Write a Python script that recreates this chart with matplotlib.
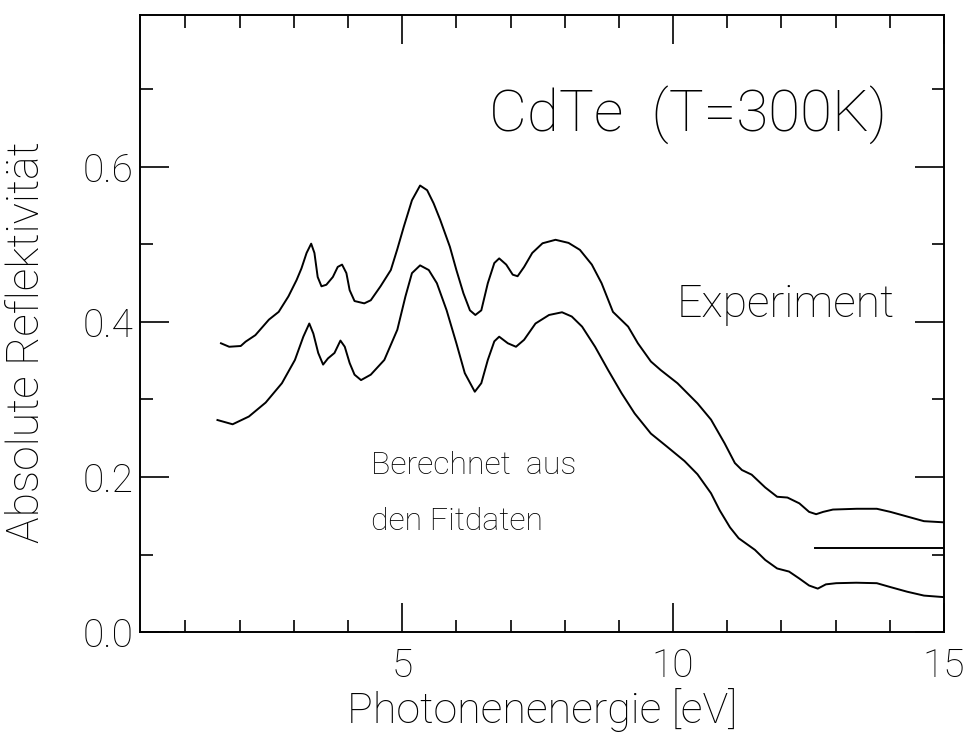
import matplotlib
matplotlib.use("Agg")
import matplotlib.pyplot as plt
from matplotlib.ticker import MultipleLocator

plt.rcParams['font.family'] = ['Roboto', 'DejaVu Sans']
plt.rcParams['font.weight'] = 'light'
plt.rcParams['axes.labelweight'] = 'light'

# gemessene Reflektivität
e_exp = [1.655, 1.807, 2.02, 2.11, 2.29, 2.54, 2.72, 2.90, 3.05, 3.14, 3.235, 3.32,
         3.38, 3.44, 3.51, 3.60, 3.72, 3.81, 3.89, 3.97, 4.03, 4.12, 4.30, 4.42,
         4.60, 4.79, 4.91, 5.03, 5.18, 5.33, 5.46, 5.58, 5.70, 5.88, 6.00, 6.13,
         6.25, 6.35, 6.46, 6.58, 6.70, 6.79, 6.92, 7.04, 7.13, 7.25, 7.40, 7.59,
         7.83, 8.07, 8.28, 8.50, 8.68, 8.89, 9.17, 9.35, 9.59, 9.77, 10.08, 10.45,
         10.70, 10.95, 11.14, 11.27, 11.45, 11.70, 11.92, 12.11, 12.33, 12.51,
         12.64, 12.77, 12.95, 13.39, 13.76, 14.01, 14.32, 14.63, 15.0]
r_exp = [0.3725, 0.368, 0.369, 0.3746, 0.383, 0.403, 0.413, 0.433, 0.454, 0.469,
         0.489, 0.501, 0.489, 0.458, 0.446, 0.448, 0.458, 0.471, 0.474, 0.463,
         0.441, 0.427, 0.424, 0.428, 0.446, 0.467, 0.494, 0.523, 0.557, 0.576,
         0.570, 0.553, 0.532, 0.497, 0.467, 0.437, 0.415, 0.409, 0.415, 0.450,
         0.476, 0.482, 0.474, 0.461, 0.459, 0.471, 0.489, 0.5015, 0.506, 0.502,
         0.493, 0.474, 0.450, 0.413, 0.394, 0.3725, 0.349, 0.338, 0.321, 0.295,
         0.274, 0.2435, 0.218, 0.209, 0.203, 0.1865, 0.1745, 0.1735, 0.166, 0.155,
         0.152, 0.155, 0.158, 0.159, 0.159, 0.155, 0.149, 0.143, 0.1415]

# aus den Fitdaten berechnet
e_fit = [1.59, 1.87, 2.17, 2.48, 2.78, 3.02, 3.175, 3.285, 3.36, 3.45, 3.54, 3.63,
         3.75, 3.86, 3.94, 4.03, 4.12, 4.24, 4.42, 4.67, 4.91, 5.06, 5.18, 5.33,
         5.49, 5.64, 5.82, 6.00, 6.155, 6.34, 6.46, 6.58, 6.70, 6.79, 6.95, 7.10,
         7.25, 7.46, 7.71, 7.95, 8.13, 8.32, 8.56, 8.80, 9.05, 9.29, 9.59, 9.89,
         10.21, 10.45, 10.70, 10.86, 11.05, 11.21, 11.35, 11.51, 11.70, 11.92,
         12.14, 12.33, 12.51, 12.67, 12.82, 13.01, 13.38, 13.76, 14.01, 14.32,
         14.63, 15.0]
r_fit = [0.2735, 0.268, 0.278, 0.296, 0.321, 0.351, 0.381, 0.398, 0.385, 0.360,
         0.345, 0.353, 0.360, 0.376, 0.368, 0.347, 0.332, 0.325, 0.332, 0.351,
         0.390, 0.433, 0.463, 0.473, 0.467, 0.450, 0.415, 0.3725, 0.334, 0.310,
         0.321, 0.351, 0.375, 0.381, 0.3725, 0.368, 0.377, 0.398, 0.409, 0.4125,
         0.407, 0.394, 0.368, 0.338, 0.308, 0.282, 0.256, 0.239, 0.2206, 0.2035,
         0.179, 0.157, 0.135, 0.121, 0.114, 0.106, 0.093, 0.082, 0.078, 0.069,
         0.060, 0.056, 0.0615, 0.063, 0.0636, 0.063, 0.058, 0.052, 0.047, 0.045]

# Offset-Linie rechts unten
e_ref = [12.62, 15.0]
r_ref = [0.108, 0.108]

fig = plt.figure(figsize=(9.7, 7.35), dpi=100)
ax = fig.add_axes([0.1443, 0.1401, 0.8289, 0.8395])

ax.plot(e_exp, r_exp, color='black', lw=1.4)
ax.plot(e_fit, r_fit, color='black', lw=1.4)
ax.plot(e_ref, r_ref, color='black', lw=1.4)

ax.set_xlim(0.16, 15.0)
ax.set_ylim(0.0, 0.796)
ax.xaxis.set_minor_locator(MultipleLocator(1))
ax.yaxis.set_minor_locator(MultipleLocator(0.1))
ax.set_xticks([5, 10, 15])
ax.set_yticks([0.0, 0.2, 0.4, 0.6])
ax.set_yticklabels(['0.0', '0.2', '0.4', '0.6'])

ax.tick_params(which='both', direction='in', top=True, right=True, width=1.2,
               labelsize=28)
ax.tick_params(axis='x', which='major', pad=11)
ax.tick_params(axis='y', which='major', pad=5)
ax.tick_params(which='major', length=21)
ax.tick_params(which='minor', length=9)
for s in ax.spines.values():
    s.set_linewidth(1.4)

ax.set_xlabel('Photonenenergie [eV]', fontsize=31, labelpad=2)
ax.set_ylabel('Absolute Reflektivität', fontsize=32)
ax.yaxis.set_label_coords(-0.114, 0.47)

ax.text(6.6, 0.667, 'CdTe  (T=300K)', fontsize=42, va='center', ha='left')
ax.text(10.07, 0.422, 'Experiment', fontsize=32, va='center', ha='left')
ax.text(4.42, 0.215, 'Berechnet  aus', fontsize=23, va='center', ha='left')
ax.text(4.42, 0.142, 'den Fitdaten', fontsize=23, va='center', ha='left')

fig.savefig('out.png', dpi=100)
